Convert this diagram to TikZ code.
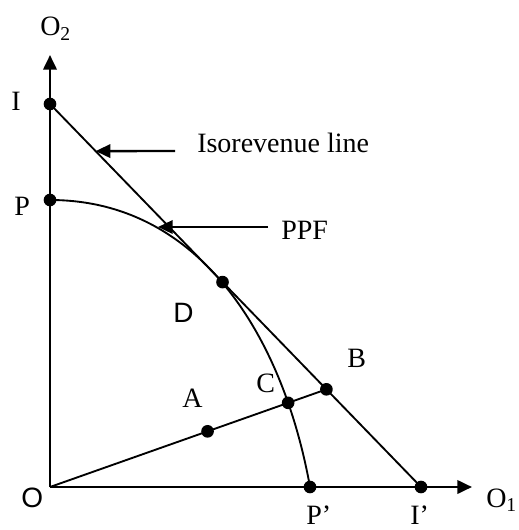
\documentclass[tikz,border=0pt]{standalone}
\usepackage{fontspec}
\setmainfont{Liberation Serif}
\newfontfamily\arialfont{Liberation Sans}
\usepackage{tikz}
\usetikzlibrary{arrows.meta,calc,intersections}

\begin{document}
\begin{tikzpicture}[
  x=0.75pt, y=-0.75pt,
  font=\fontsize{21}{25}\selectfont,
  >={Triangle[length=11pt,width=10pt]},
  axis/.style={->, line width=2pt},
  curve/.style={line width=1.4pt},
  pointer/.style={->, line width=1.8pt},
  dot/.style={circle, fill, inner sep=0pt, minimum size=9.5pt},
  lbl/.style={anchor=base west, inner sep=0pt},
  sanslbl/.style={lbl, font=\fontsize{21}{25}\selectfont\arialfont}
]
\useasboundingbox (0,0) rectangle (518,530);

% axes
\coordinate (origin) at (50,487);
\coordinate (ytip) at (50,55);
\coordinate (xtip) at (472,487);
\draw[axis] (origin) -- (ytip);
\draw[axis] (origin) -- (xtip);

% intercepts
\node[dot] (I) at (50,104) {};
\node[dot] (P) at (50,200) {};
\node[dot] (Pp) at (310,487) {};
\node[dot] (Ip) at (421,487) {};

% isorevenue line and PPF
\draw[curve] (I.center) -- (Ip.center);
\draw[curve, name path=ppf] (P.center) .. controls (200,200) and (283,337) .. (Pp.center);

% ray from the origin
\node[dot] (B) at ($(I)!0.745!(Ip)$) {};
\draw[curve, name path=ray] (origin) -- (B.center);
\path[name intersections={of=ppf and ray, by=cpt}];
\node[dot] (C) at (cpt) {};
\node[dot] (A) at ($(origin)!0.57!(B)$) {};
\node[dot] (D) at ($(I)!0.465!(Ip)$) {};

% pointers
\coordinate (isotip) at ($(I)!0.123!(Ip)$);
\coordinate (isotail) at (175,151);
\draw[pointer] (isotail) -- (isotip);
\coordinate (ppftip) at (158,227);
\coordinate (ppftail) at (268,227);
\draw[pointer] (ppftail) -- (ppftip);

% labels
\node[lbl] (o2lbl) at (40,36) {O\textsubscript{2}};
\node[lbl] (ilbl) at (11,111) {I};
\node[lbl] (plbl) at (14,216) {P};
\node[sanslbl] (olbl) at (21,507) {O};
\node[lbl] (isolbl) at (197,153) {Isorevenue line};
\node[lbl] (ppflbl) at (281,240) {PPF};
\node[sanslbl] (dlbl) at (173,322) {D};
\node[lbl] (albl) at (182,407) {A};
\node[lbl] (clbl) at (256,392) {C};
\node[lbl] (blbl) at (347,367) {B};
\node[lbl] (pplbl) at (306,524) {P’};
\node[lbl] (iplbl) at (410,524) {I’};
\node[lbl] (o1lbl) at (486,507) {O\textsubscript{1}};
\end{tikzpicture}
\end{document}
